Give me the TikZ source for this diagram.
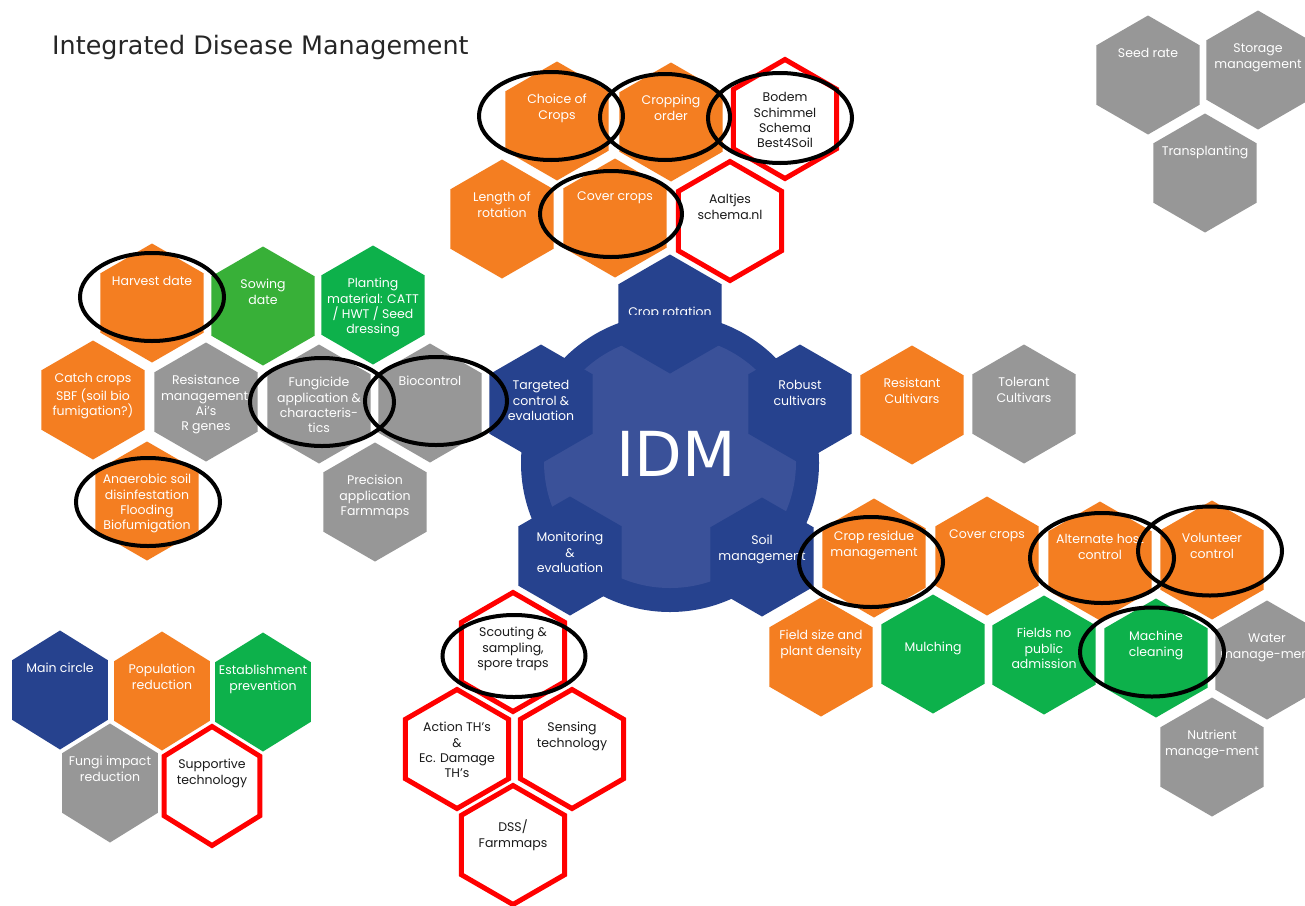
\documentclass[tikz,border=0pt]{standalone}
\usepackage{fontspec}
\usetikzlibrary{shapes.geometric}
\newfontfamily\hexfont{Poppins}
\newfontfamily\titlefont{DejaVu Sans}
\definecolor{cOrange}{HTML}{F47E21}
\definecolor{cGray}{HTML}{979797}
\definecolor{cGreenA}{HTML}{38B038}
\definecolor{cGreenB}{HTML}{0DB14B}
\definecolor{cBlue}{HTML}{26428E}
\definecolor{cBlueL}{HTML}{3A5199}
\definecolor{cRed}{HTML}{FF0000}
\definecolor{cText}{HTML}{1A1A1A}
\definecolor{cTitle}{HTML}{262626}
\tikzset{
  hexshape/.style={regular polygon, regular polygon sides=6, shape border rotate=30,
    minimum size=119pt, inner sep=0pt, outer sep=0pt},
  hO/.style={hexshape, fill=cOrange},
  hG/.style={hexshape, fill=cGray},
  hGa/.style={hexshape, fill=cGreenA},
  hGb/.style={hexshape, fill=cGreenB},
  hB/.style={hexshape, fill=cBlue},
  hR/.style={hexshape, fill=white, draw=cRed, line width=5pt},
  htext/.style={anchor=north, inner sep=0pt, align=center,
    font=\hexfont\fontsize{12.5}{15.3}\selectfont, text=white},
  ring/.style={ellipse, draw=black, line width=4pt, inner sep=0pt, fill=none},
}
\newcommand{\hx}[7][28]{%
  \node[#5] (#2) at (#3,#4) {};
  \node[htext, text=#6] (#2t) at (#3,#4-#1) {\strut #7};}
\newcommand{\hxn}[7][28]{%
  \begin{scope}[shift={(#3,#4)}]\node[#5, xscale=0.93, transform shape] (#2) at (0,0) {};\end{scope}
  \node[htext, text=#6] (#2t) at (#3,#4-#1) {\strut #7};}
\begin{document}
\begin{tikzpicture}[x=1pt,y=-1pt]
\useasboundingbox (0,0) rectangle (1305,905);
\fill[white] (0,0) rectangle (1305,905);
\node[anchor=base west, inner sep=0pt, font=\titlefont\fontsize{25.4}{30}\selectfont, text=cTitle]
  (title) at (52,54) {Integrated Disease Management};
% top cluster
\hx{choice}{557}{121}{hO}{white}{Choice of\\Crops}
\hx{cropping}{671}{122}{hO}{white}{Cropping\\order}
\hx{bodem}{785}{119}{hR}{cText}{Bodem\\Schimmel\\Schema\\Best4Soil}
\hx{length}{502}{219}{hO}{white}{Length of\\rotation}
\hx{covertop}{615}{218}{hO}{white}{Cover crops}
\hx{aaltjes}{730}{221}{hR}{cText}{Aaltjes\\schema.nl}
% left cluster
\hx{harvest}{152}{303}{hO}{white}{Harvest date}
\hx{sowing}{263}{306}{hGa}{white}{Sowing\\date}
\hx{planting}{373}{305}{hGb}{white}{Planting\\material: CATT\\/ HWT / Seed\\dressing}
\hx{catch}{93}{400}{hO}{white}{Catch crops\\SBF (soil bio\\fumigation?)}
\hx{resist}{206}{402}{hG}{white}{Resistance\\management:\\Ai’s\\R genes}
\hx{fungicide}{319}{404}{hG}{white}{Fungicide\\application \&\\characteris-\\tics}
\hx{biocontrol}{430}{403}{hG}{white}{Biocontrol}
\hx{anaerobic}{147}{501}{hO}{white}{Anaerobic soil\\disinfestation\\Flooding\\Biofumigation}
\hx{precision}{375}{502}{hG}{white}{Precision\\application\\Farmmaps}
% centre
\node[circle, fill=cBlue, minimum size=298pt, inner sep=0pt] (outer) at (670,463) {};
\node[circle, fill=cBlueL, minimum size=252pt, inner sep=0pt] (core) at (670,462) {};
\node[hB] (croprot) at (670,314) {};
\begin{scope}
  \clip (590,290) rectangle (750,314.5);
  \node[anchor=base, inner sep=0pt, font=\hexfont\fontsize{12.5}{15.3}\selectfont, text=white]
    (croprott) at (670,316) {Crop rotation};
\end{scope}
\hx[25]{targeted}{541}{404}{hB}{white}{Targeted\\control \&\\evaluation}
\hx[25]{robust}{800}{404}{hB}{white}{Robust\\cultivars}
\hx[25]{monitoring}{570}{556}{hB}{white}{Monitoring\\\&\\evaluation}
\hx[23]{soil}{762}{557}{hB}{white}{Soil\\management}
\node[font=\titlefont\fontsize{62}{62}\selectfont, text=white, inner sep=0pt] (idm) at (676,454) {IDM};
% right cluster
\hx{resistant}{912}{405}{hO}{white}{Resistant\\Cultivars}
\hx{tolerant}{1024}{404}{hG}{white}{Tolerant\\Cultivars}
\hx{residue}{874}{558}{hO}{white}{Crop residue\\management}
\hx{coverright}{987}{556}{hO}{white}{Cover crops}
\hx{alternate}{1100}{561}{hO}{white}{Alternate host\\control}
\hx{volunteer}{1212}{560}{hO}{white}{Volunteer\\control}
\hx{fieldsize}{821}{657}{hO}{white}{Field size and\\plant density}
\hx[13]{mulching}{933}{654}{hGb}{white}{Mulching}
\hx{fieldsno}{1044}{655}{hGb}{white}{Fields no\\public\\admission}
\hx{machine}{1156}{658}{hGb}{white}{Machine\\cleaning}
\hx{water}{1267}{660}{hG}{white}{Water\\manage-ment}
\hx{nutrient}{1212}{757}{hG}{white}{Nutrient\\manage-ment}
% bottom cluster
\hx[26]{scouting}{513}{652}{hR}{cText}{Scouting \&\\sampling,\\spore traps}
\hx{action}{457}{749}{hR}{cText}{Action TH’s\\\&\\Ec. Damage\\TH’s}
\hx{sensing}{572}{749}{hR}{cText}{Sensing\\technology}
\hx[25]{dss}{513}{845}{hR}{cText}{DSS/\\Farmmaps}
% legend
\hxn{lmain}{60}{690}{hB}{white}{Main circle}
\hxn{lpop}{162}{691}{hO}{white}{Population\\reduction}
\hxn{lest}{263}{692}{hGb}{white}{Establishment\\prevention}
\hxn{lfungi}{110}{783}{hG}{white}{Fungi impact\\reduction}
\hxn{lsupp}{212}{786}{hR}{cText}{Supportive\\technology}
% top right
\hx{seed}{1148}{75}{hG}{white}{Seed rate}
\hx{storage}{1258}{70}{hG}{white}{Storage\\management}
\hx{transplant}{1205}{173}{hG}{white}{Transplanting}
% highlight ellipses
\node[ring, minimum width=144pt, minimum height=88pt] (echoice) at (551,116) {};
\node[ring, minimum width=130pt, minimum height=86pt] (ecropping) at (665,117) {};
\node[ring, minimum width=144pt, minimum height=90pt] (ebodem) at (780,118) {};
\node[ring, minimum width=142pt, minimum height=86pt] (ecover) at (611,214) {};
\node[ring, minimum width=144pt, minimum height=88pt] (eharvest) at (152,297) {};
\node[ring, minimum width=144pt, minimum height=88pt] (efung) at (322,402) {};
\node[ring, minimum width=142pt, minimum height=88pt] (ebio) at (436,401) {};
\node[ring, minimum width=144pt, minimum height=88pt] (eanaer) at (148,502) {};
\node[ring, minimum width=143pt, minimum height=82pt] (escout) at (514,656) {};
\node[ring, minimum width=144pt, minimum height=90pt] (eresidue) at (871,562) {};
\node[ring, minimum width=144pt, minimum height=90pt] (ealt) at (1102,558) {};
\node[ring, minimum width=144pt, minimum height=89pt] (evol) at (1210,551) {};
\node[ring, minimum width=144pt, minimum height=89pt] (emach) at (1152,652) {};
\end{tikzpicture}
\end{document}
